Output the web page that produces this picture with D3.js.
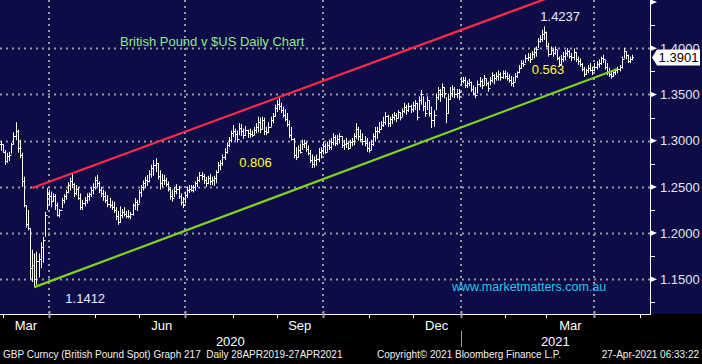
<!DOCTYPE html>
<html><head><meta charset="utf-8">
<script src="https://cdn.jsdelivr.net/npm/d3@7"></script>
<style>html,body{margin:0;padding:0;background:#000;overflow:hidden}svg{display:block}</style>
</head><body><svg id="c" width="702" height="364"></svg>
<script>
// ---- data (GBP/USD daily, price x 10000), first bar 28-Feb-2020, last bar 27-Apr-2021 ----
const firstDay = [2020, 1, 28], lastDay = [2021, 3, 27], axisEndDay = [2021, 4, 10];
const highs = [
 12995,12960,12900,12870,12880,12975,13090,13200,13120,13010,12870,12610,12300,12250,12050,11820,11780,11800,11780,11900,11960,12230,12490,12470,
 12450,12430,12420,12330,12260,12380,12420,12470,12550,12600,12650,12540,12520,12500,12430,12360,12390,12430,12440,12500,12540,
 12610,12630,12560,12500,12470,12450,12410,12380,12350,12340,12280,12240,12290,12260,12280,12240,12250,12230,12320,12380,12360,
 12470,12520,12570,12610,12630,12680,12740,12790,12810,12760,12680,12640,12630,12600,12560,12500,12470,12500,12530,12510,12430,12390,
 12450,12500,12520,12520,12520,12560,12610,12660,12660,12640,12610,12620,12640,12610,12620,12680,12770,12790,12850,12920,12980,13040,13110,
 13170,13130,13110,13190,13180,13130,13160,13120,13130,13110,13150,13190,13260,13250,13260,13250,13150,13200,13260,13300,13390,
 13440,13462,13410,13370,13340,13300,13220,13150,13030,12930,12950,12970,13010,13010,12990,12950,12900,12850,12830,12850,12920,12930,
 12990,12970,12990,13010,13030,13080,13060,13060,13080,13050,13010,13030,12990,13010,13030,13080,13190,13150,13120,13080,13050,13030,
 12990,13010,13080,13150,13150,13200,13210,13260,13310,13280,13260,13290,13310,13300,13330,13310,13350,13410,13390,13410,13390,
 13420,13440,13410,13480,13550,13480,13420,13480,13440,13370,13330,13510,13580,13560,13620,13580,13470,13510,13580,13600,13580,13560,13560,
 13690,13690,13690,13650,13670,13640,13600,13580,13650,13690,13670,13710,13670,13640,13690,13740,13720,13740,13760,13740,13760,
 13760,13740,13720,13700,13690,13730,13750,13820,13870,13870,13930,13950,13950,13970,14000,14020,14110,14140,14200,14237,
 14180,14060,14020,14000,14020,13980,13910,13930,13960,13980,14000,13980,13950,14000,13960,13910,13890,13840,13800,13780,13820,13840,13800,
 13840,13860,13880,13910,13930,13870,13840,13790,13740,13760,13780,13800,13820,13910,14000,13970,13930,13910,13930
];
const lows = [
 12890,12870,12740,12760,12780,12860,12960,13005,12870,12810,12500,12280,12060,12030,11500,11470,11412,11440,11520,11620,11680,11960,12250,12300,
 12280,12340,12250,12180,12170,12270,12320,12360,12430,12460,12490,12390,12410,12360,12250,12250,12290,12320,12350,12390,12420,
 12470,12500,12430,12390,12350,12330,12280,12270,12250,12220,12140,12090,12110,12160,12180,12160,12160,12150,12190,12250,12240,
 12320,12390,12460,12490,12510,12550,12600,12620,12660,12580,12470,12500,12520,12500,12450,12360,12340,12390,12420,12370,12300,12270,
 12320,12380,12430,12450,12440,12460,12500,12550,12570,12530,12500,12530,12520,12520,12510,12540,12650,12680,12730,12790,12860,12930,12980,
 13040,13000,12980,13060,13050,13020,13050,13030,13030,13040,13060,13080,13090,13080,13120,13060,13060,13080,13150,13190,13260,
 13310,13330,13300,13250,13210,13150,13030,13000,12810,12790,12820,12860,12900,12920,12880,12840,12760,12705,12710,12730,12770,12810,
 12850,12860,12880,12900,12900,12950,12940,12950,12970,12920,12900,12920,12900,12920,12940,12950,13020,13000,12990,12950,12940,12880,
 12870,12900,12940,12990,13020,13080,13120,13150,13170,13150,13150,13180,13220,13200,13240,13220,13260,13300,13280,13310,13300,
 13310,13330,13220,13330,13390,13320,13260,13330,13260,13137,13150,13330,13440,13420,13470,13460,13190,13290,13440,13470,13460,13460,13440,
 13600,13620,13570,13570,13590,13530,13490,13460,13510,13580,13560,13600,13590,13530,13600,13630,13610,13650,13650,13650,13670,
 13670,13650,13630,13590,13580,13640,13680,13730,13780,13800,13840,13860,13840,13880,13890,13910,14000,14060,14070,14090,
 14010,13910,13930,13910,13930,13870,13800,13820,13850,13870,13910,13890,13860,13870,13850,13820,13800,13750,13690,13710,13730,13750,13710,
 13750,13770,13790,13820,13840,13770,13710,13690,13670,13690,13710,13730,13750,13780,13890,13880,13840,13840,13870
];
const closes = [
 12960,12880,12780,12830,12850,12960,13050,13100,12920,12850,12560,12300,12100,12060,11620,11650,11500,11700,11720,11850,11920,12200,12420,12400,
 12350,12400,12300,12200,12250,12360,12400,12450,12520,12560,12530,12430,12480,12380,12280,12330,12360,12400,12420,12470,12500,
 12580,12540,12470,12430,12400,12360,12310,12300,12280,12250,12180,12120,12200,12230,12210,12190,12180,12210,12300,12340,12320,
 12450,12500,12540,12580,12560,12640,12700,12740,12760,12620,12540,12570,12580,12530,12480,12400,12380,12460,12480,12400,12340,12300,
 12410,12470,12480,12470,12500,12540,12570,12630,12620,12570,12540,12600,12560,12580,12600,12660,12740,12760,12820,12880,12950,13010,13080,
 13100,13070,13020,13140,13100,13060,13120,13080,13070,13060,13120,13150,13200,13130,13220,13100,13090,13150,13220,13270,13350,
 13400,13380,13330,13280,13240,13180,13060,13020,12850,12820,12900,12880,12960,12970,12910,12870,12790,12750,12790,12800,12880,12900,
 12940,12880,12950,12930,12990,13040,12970,13020,13050,12950,12960,12980,12920,12990,13000,13050,13130,13050,13020,13000,12980,12920,
 12900,12960,13050,13110,13100,13130,13170,13200,13270,13190,13230,13260,13280,13250,13310,13260,13320,13370,13330,13380,13340,
 13390,13410,13260,13440,13500,13380,13300,13440,13300,13220,13280,13470,13550,13500,13580,13520,13300,13450,13520,13560,13510,13520,13530,
 13650,13660,13600,13620,13640,13560,13520,13490,13610,13650,13600,13680,13620,13570,13660,13710,13680,13700,13720,13690,13730,
 13700,13680,13660,13620,13640,13700,13740,13790,13840,13830,13900,13910,13880,13940,13960,13990,14080,14100,14150,14180,
 14020,13940,13980,13950,13990,13890,13830,13880,13920,13950,13970,13920,13910,13960,13880,13860,13830,13780,13720,13760,13790,13770,13760,
 13800,13830,13840,13890,13880,13800,13740,13720,13700,13740,13760,13780,13800,13880,13970,13930,13860,13880,13901
];
const lastPrice = 1.3901;
const yTickValues = [1.15, 1.20, 1.25, 1.30, 1.35, 1.40, 1.45];
const yMinorValues = [1.125, 1.175, 1.225, 1.275, 1.325, 1.375, 1.425];
const monthLabelKeys = ["2020-2", "2020-5", "2020-8", "2020-11", "2021-2"];
const monthLabelTexts = ["Mar", "Jun", "Sep", "Dec", "Mar"];
const yearLabels = ["2020", "2021"];
// trend lines: [bar index, price]
const upperTrend = [[15, 1.2488], [270, 1.4613]];
const lowerTrend = [[16, 1.1415], [295, 1.3776]];
const annLow = {i: 16, p: 1.1412, text: "1.1412"};
const annHigh = {i: 260, p: 1.4237, text: "1.4237"};
const fibLabels = [{i: 114, p: 1.2720, text: "0.806"}, {i: 254, p: 1.3720, text: "0.563"}];

// ---- trading calendar (weekdays) ----
function weekdays(a, b) {
  const out = [];
  const d = new Date(Date.UTC(a[0], a[1], a[2])), e = new Date(Date.UTC(b[0], b[1], b[2]));
  for (; d <= e; d.setUTCDate(d.getUTCDate() + 1)) { const w = d.getUTCDay(); if (w !== 0 && w !== 6) out.push(new Date(d)); }
  return out;
}
const dates = weekdays(firstDay, lastDay);
const axisDates = weekdays(firstDay, axisEndDay);
if (highs.length !== dates.length || lows.length !== dates.length || closes.length !== dates.length)
  throw new Error("length mismatch " + dates.length + " " + highs.length + " " + lows.length + " " + closes.length);

const bars = dates.map((d, i) => ({i, d, h: highs[i] / 1e4, l: lows[i] / 1e4, c: closes[i] / 1e4, o: (i ? closes[i - 1] : closes[0]) / 1e4}));

// ---- layout ----
const W = 702, H = 364, PW = 650, PH = 314;
const NAVY = "#0d0c46", GRID = "#9898a6", FONT = "'Liberation Sans', Arial, sans-serif";
const svg = d3.select("#c");
const x = d3.scaleLinear().domain([-0.43, 310.57]).range([0, PW]);
const y = d3.scaleLinear().domain([1.15, 1.40]).range([279.3, 48.3]);

svg.append("rect").attr("width", W).attr("height", H).attr("fill", "#000");
svg.append("rect").attr("width", W).attr("height", PH).attr("fill", NAVY);
svg.append("defs").append("clipPath").attr("id", "clip").append("rect").attr("width", PW).attr("height", PH - 1);
const plot = svg.append("g").attr("clip-path", "url(#clip)");

// month starts
const monthStarts = [];
axisDates.forEach((d, i) => {
  if (i === 0) return;
  if (d.getUTCMonth() !== axisDates[i - 1].getUTCMonth()) monthStarts.push({i, d, key: d.getUTCFullYear() + "-" + d.getUTCMonth()});
});
const isQuarter = m => m.d.getUTCMonth() % 3 === 0;

// grid
plot.selectAll(".hg").data(yTickValues.filter(v => v < 1.44)).enter().append("line")
  .attr("x1", 0).attr("x2", PW).attr("y1", d => Math.round(y(d)) + 0.5).attr("y2", d => Math.round(y(d)) + 0.5)
  .attr("stroke", GRID).attr("stroke-width", 2).attr("stroke-dasharray", "2,4");
plot.selectAll(".vg").data(monthStarts.filter(isQuarter)).enter().append("line")
  .attr("x1", d => Math.round(x(d.i))).attr("x2", d => Math.round(x(d.i))).attr("y1", 0).attr("y2", PH)
  .attr("stroke", GRID).attr("stroke-width", 2).attr("stroke-dasharray", "2,4");

// OHLC bars
const path = d3.path();
bars.forEach(b => {
  const bx = Math.round(x(b.i)) + 0.5;
  path.moveTo(bx, y(b.h)); path.lineTo(bx, y(b.l));
  const yo = Math.round(y(b.o)) + 0.5, yc = Math.round(y(b.c)) + 0.5;
  path.moveTo(bx - 1.5, yo); path.lineTo(bx, yo);
  path.moveTo(bx, yc); path.lineTo(bx + 1.5, yc);
});
plot.append("path").attr("d", path.toString()).attr("fill", "none").attr("stroke", "#fff").attr("stroke-width", 1);

// trend lines
const line = d3.line().x(d => x(d[0])).y(d => y(d[1]));
plot.append("path").attr("d", line(upperTrend)).attr("stroke", "#ff2a4a").attr("stroke-width", 2.2).attr("fill", "none");
plot.append("path").attr("d", line(lowerTrend)).attr("stroke", "#7ed321").attr("stroke-width", 2.2).attr("fill", "none");

// annotations
svg.append("text").attr("x", 120).attr("y", 46).text("British Pound v $US Daily Chart")
  .attr("fill", "#8fe88f").attr("font-family", FONT).attr("font-size", 13);
svg.append("text").attr("x", x(annHigh.i) - 4).attr("y", y(annHigh.p) - 5).text(annHigh.text)
  .attr("fill", "#e8ecff").attr("font-family", FONT).attr("font-size", 13);
svg.append("text").attr("x", x(annLow.i) + 31).attr("y", y(annLow.p) + 16).text(annLow.text)
  .attr("fill", "#e8ecff").attr("font-family", FONT).attr("font-size", 13);
svg.selectAll(".fib").data(fibLabels).enter().append("text")
  .attr("x", d => x(d.i)).attr("y", d => y(d.p)).text(d => d.text)
  .attr("fill", "#ffff30").attr("font-family", FONT).attr("font-size", 13);
svg.append("text").attr("x", 452).attr("y", 291).text("www.marketmatters.com.au")
  .attr("fill", "#22c6ee").attr("font-family", FONT).attr("font-size", 12.5);

// right axis
svg.append("line").attr("x1", PW + 0.5).attr("x2", PW + 0.5).attr("y1", 0).attr("y2", PH).attr("stroke", "#fff");
svg.selectAll(".mt").data(yMinorValues).enter().append("line")
  .attr("x1", PW).attr("x2", PW + 5).attr("y1", d => Math.round(y(d)) + 0.5).attr("y2", d => Math.round(y(d)) + 0.5)
  .attr("stroke", "#fff");
svg.selectAll(".tri").data(yTickValues).enter().append("path")
  .attr("d", d => { const yy = y(d); return `M${PW},${yy - 3}L${PW + 7},${yy}L${PW},${yy + 3}Z`; })
  .attr("fill", "#fff");
svg.selectAll(".yl").data(yTickValues.filter(v => v < 1.44)).enter().append("text")
  .attr("x", 660).attr("y", d => y(d)).attr("dy", "0.36em").text(d => d.toFixed(4))
  .attr("fill", "#e4e4f2").attr("font-family", FONT).attr("font-size", 13);
// last price box
const yl = y(lastPrice);
svg.append("path").attr("d", `M652,${yl}L657,${yl - 8}L700,${yl - 8}L700,${yl + 8}L657,${yl + 8}Z`).attr("fill", "#fff");
svg.append("text").attr("x", 678.5).attr("y", yl).attr("dy", "0.36em").attr("text-anchor", "middle").text(lastPrice.toFixed(4))
  .attr("fill", "#000").attr("font-family", FONT).attr("font-size", 13);

// bottom axis
svg.append("line").attr("x1", 0).attr("x2", PW + 1).attr("y1", PH + 0.5).attr("y2", PH + 0.5).attr("stroke", "#fff");
svg.selectAll(".bt").data(monthStarts.filter(m => x(m.i) < PW)).enter().append("line")
  .attr("x1", d => Math.round(x(d.i)) + 0.5).attr("x2", d => Math.round(x(d.i)) + 0.5)
  .attr("y1", d => isQuarter(d) ? PH - 3 : PH).attr("y2", PH + 4)
  .attr("stroke", d => isQuarter(d) ? GRID : "#fff").attr("stroke-width", d => isQuarter(d) ? 2 : 1);
const ms = monthStarts;
const monthCenters = monthLabelKeys.map((k, j) => {
  const idx = ms.findIndex(m => m.key === k);
  return {x: (x(ms[idx].i) + x(ms[idx + 1].i)) / 2, t: monthLabelTexts[j]};
});
svg.selectAll(".ml").data(monthCenters).enter().append("text")
  .attr("x", d => d.x).attr("y", 330).attr("text-anchor", "middle").text(d => d.t)
  .attr("fill", "#fff").attr("font-family", FONT).attr("font-size", 13);
const jan = ms.find(m => m.d.getUTCMonth() === 0);
svg.append("line").attr("x1", Math.round(x(jan.i)) + 0.5).attr("x2", Math.round(x(jan.i)) + 0.5).attr("y1", 331).attr("y2", 347)
  .attr("stroke", "#a0a0a0");
const yearCenters = [(0 + x(jan.i)) / 2, (x(jan.i) + PW) / 2];
svg.selectAll(".yr").data(yearLabels).enter().append("text")
  .attr("x", (d, j) => yearCenters[j]).attr("y", 346).attr("text-anchor", "middle").text(d => d)
  .attr("fill", "#fff").attr("font-family", FONT).attr("font-size", 13);

// footer
const foot = svg.append("g").attr("font-family", FONT).attr("font-size", 10).attr("fill", "#f0f0f0");
foot.append("text").attr("x", 3).attr("y", 358).text("GBP Curncy (British Pound Spot) Graph 217  Daily 28APR2019-27APR2021").attr("xml:space", "preserve");
foot.append("text").attr("x", 377).attr("y", 358).text("Copyright\u00A9 2021 Bloomberg Finance L.P.");
foot.append("text").attr("x", 699).attr("y", 358).attr("text-anchor", "end").text("27-Apr-2021 06:33:22");
</script></body></html>
